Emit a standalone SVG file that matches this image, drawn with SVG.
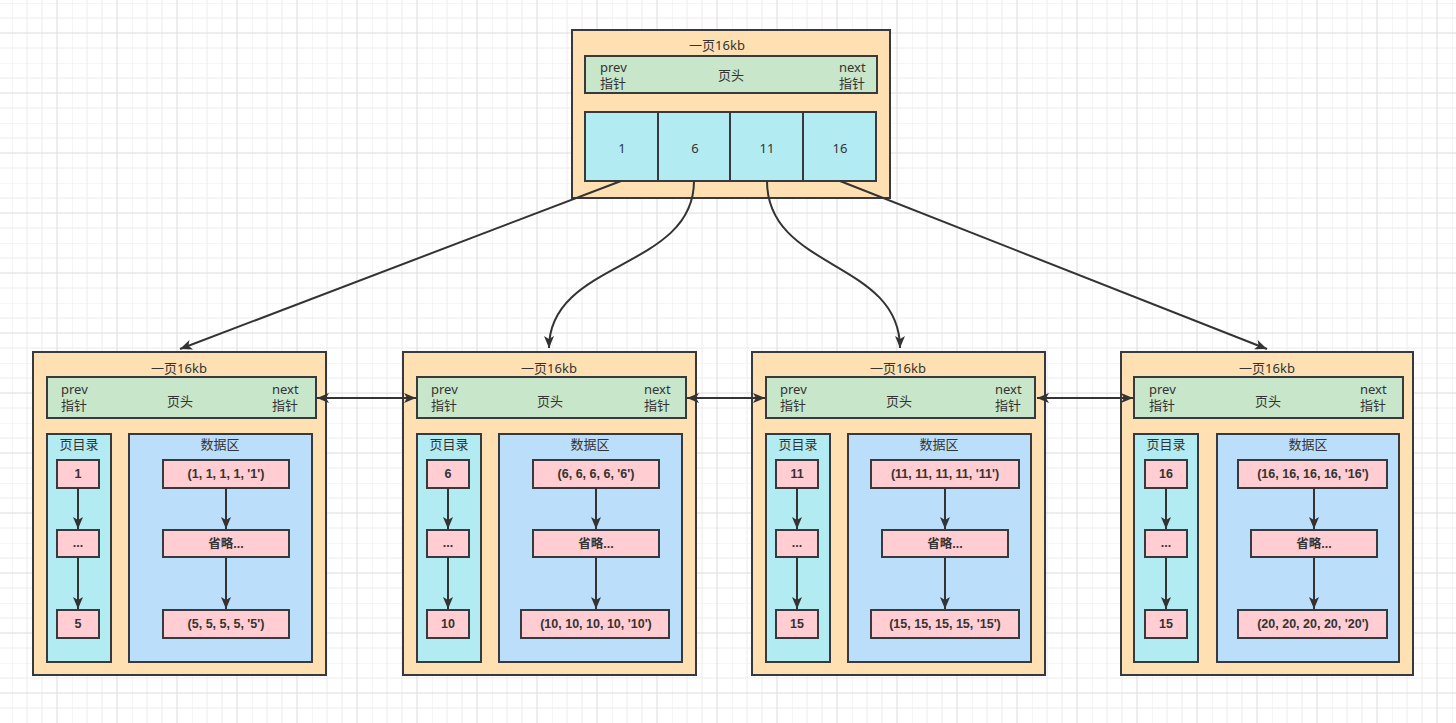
<svg xmlns="http://www.w3.org/2000/svg" width="1456" height="723" viewBox="0 0 1456 723">
<style>
.bg{fill:#ffffff}
.page{fill:#FFE0B2;stroke:#36393d;stroke-width:2}
.hdr{fill:#C8E6C9;stroke:#36393d;stroke-width:2}
.cell{fill:#B2EBF2;stroke:#36393d;stroke-width:2}
.dir{fill:#B2EBF2;stroke:#36393d;stroke-width:2}
.data{fill:#BBDEFB;stroke:#36393d;stroke-width:2}
.rec{fill:#FFCDD2;stroke:#36393d;stroke-width:2}
.t{font-family:"Noto Sans","Noto Sans CJK SC",sans-serif;font-size:13px;fill:#333}
.c{text-anchor:middle}
.b{font-family:"Liberation Sans","Noto Sans CJK SC",sans-serif;font-size:12.5px;font-weight:bold;fill:#333;text-anchor:middle}
.conn{fill:none;stroke:#333;stroke-width:2}
</style>
<defs>
<pattern id="grid" x="12" y="3" width="60" height="60" patternUnits="userSpaceOnUse">
<path d="M0,0V60M15,0V60M30,0V60M0,0H60M0,15H60M0,45H60" stroke="#ececec" stroke-width="1" fill="none"/>
<path d="M45,0V60M0,30H60" stroke="#dcdcdc" stroke-width="1" fill="none"/>
</pattern>
<marker id="ah" markerWidth="13" markerHeight="11" refX="12" refY="5.5" orient="auto" markerUnits="userSpaceOnUse">
<path d="M0,0.5 L12,5.5 L0,10.5 L3,5.5 z" fill="#333"/>
</marker>
<marker id="ahs" markerWidth="13" markerHeight="11" refX="1" refY="5.5" orient="auto" markerUnits="userSpaceOnUse">
<path d="M13,0.5 L1,5.5 L13,10.5 L10,5.5 z" fill="#333"/>
</marker>
</defs>
<rect class="bg" x="0" y="0" width="1456" height="723"/>
<rect x="0" y="0" width="1456" height="723" fill="url(#grid)"/>

<g id="root">
<rect class="page" x="572" y="30" width="318" height="168"/>
<text class="t c" x="717" y="50">一页16kb</text>
<rect class="hdr" x="585" y="56" width="292" height="37"/>
<text class="t" x="600" y="72">prev</text>
<text class="t" x="600" y="88">指针</text>
<text class="t c" x="731" y="80">页头</text>
<text class="t" x="839" y="72">next</text>
<text class="t" x="839" y="88">指针</text>
<rect class="cell" x="585" y="112" width="73" height="69"/>
<rect class="cell" x="658" y="112" width="72" height="69"/>
<rect class="cell" x="730" y="112" width="73" height="69"/>
<rect class="cell" x="803" y="112" width="73" height="69"/>
<text class="t c" x="622" y="153">1</text>
<text class="t c" x="695" y="153">6</text>
<text class="t c" x="767" y="153">11</text>
<text class="t c" x="840" y="153">16</text>
</g>

<g id="leaf1" transform="translate(33,352)">
<rect class="page" x="0" y="0" width="293" height="323"/>
<text class="t c" x="146" y="21">一页16kb</text>
<rect class="hdr" x="14" y="25" width="269" height="41"/>
<text class="t" x="28" y="42">prev</text>
<text class="t" x="28" y="58">指针</text>
<text class="t c" x="147" y="54">页头</text>
<text class="t" x="239" y="42">next</text>
<text class="t" x="239" y="58">指针</text>
<rect class="dir" x="14" y="82" width="64" height="228"/>
<rect class="data" x="96" y="82" width="183" height="228"/>
<text class="t c" x="46" y="97">页目录</text>
<text class="t c" x="187" y="97">数据区</text>
<rect class="rec" x="24" y="108" width="42" height="28"/>
<rect class="rec" x="24" y="178" width="42" height="27"/>
<rect class="rec" x="24" y="258" width="42" height="28"/>
<text class="b" x="45" y="126">1</text>
<text class="b" x="45" y="195">...</text>
<text class="b" x="45" y="276">5</text>
<rect class="rec" x="130" y="108" width="126" height="28"/>
<rect class="rec" x="130" y="178" width="126" height="27"/>
<rect class="rec" x="130" y="258" width="126" height="28"/>
<text class="b" x="193" y="126">(1, 1, 1, 1, '1')</text>
<text class="b" x="193" y="196">省略...</text>
<text class="b" x="193" y="276">(5, 5, 5, 5, '5')</text>
<path class="conn" d="M45,136V177" marker-end="url(#ah)"/>
<path class="conn" d="M45,205V257" marker-end="url(#ah)"/>
<path class="conn" d="M193,136V177" marker-end="url(#ah)"/>
<path class="conn" d="M193,205V257" marker-end="url(#ah)"/>
</g>

<g id="leaf2" transform="translate(403,352)">
<rect class="page" x="0" y="0" width="293" height="323"/>
<text class="t c" x="146" y="21">一页16kb</text>
<rect class="hdr" x="14" y="25" width="269" height="41"/>
<text class="t" x="28" y="42">prev</text>
<text class="t" x="28" y="58">指针</text>
<text class="t c" x="147" y="54">页头</text>
<text class="t" x="241" y="42">next</text>
<text class="t" x="241" y="58">指针</text>
<rect class="dir" x="14" y="82" width="64" height="228"/>
<rect class="data" x="96" y="82" width="183" height="228"/>
<text class="t c" x="46" y="97">页目录</text>
<text class="t c" x="187" y="97">数据区</text>
<rect class="rec" x="24" y="108" width="42" height="28"/>
<rect class="rec" x="24" y="178" width="42" height="27"/>
<rect class="rec" x="24" y="258" width="42" height="28"/>
<text class="b" x="45" y="126">6</text>
<text class="b" x="45" y="195">...</text>
<text class="b" x="45" y="276">10</text>
<rect class="rec" x="130" y="108" width="126" height="28"/>
<rect class="rec" x="130" y="178" width="126" height="27"/>
<rect class="rec" x="118" y="258" width="148" height="28"/>
<text class="b" x="193" y="126">(6, 6, 6, 6, '6')</text>
<text class="b" x="193" y="196">省略...</text>
<text class="b" x="193" y="276">(10, 10, 10, 10, '10')</text>
<path class="conn" d="M45,136V177" marker-end="url(#ah)"/>
<path class="conn" d="M45,205V257" marker-end="url(#ah)"/>
<path class="conn" d="M193,136V177" marker-end="url(#ah)"/>
<path class="conn" d="M193,205V257" marker-end="url(#ah)"/>
</g>

<g id="leaf3" transform="translate(752,352)">
<rect class="page" x="0" y="0" width="293" height="323"/>
<text class="t c" x="146" y="21">一页16kb</text>
<rect class="hdr" x="14" y="25" width="269" height="41"/>
<text class="t" x="28" y="42">prev</text>
<text class="t" x="28" y="58">指针</text>
<text class="t c" x="147" y="54">页头</text>
<text class="t" x="243" y="42">next</text>
<text class="t" x="243" y="58">指针</text>
<rect class="dir" x="14" y="82" width="64" height="228"/>
<rect class="data" x="96" y="82" width="183" height="228"/>
<text class="t c" x="46" y="97">页目录</text>
<text class="t c" x="187" y="97">数据区</text>
<rect class="rec" x="24" y="108" width="42" height="28"/>
<rect class="rec" x="24" y="178" width="42" height="27"/>
<rect class="rec" x="24" y="258" width="42" height="28"/>
<text class="b" x="45" y="126">11</text>
<text class="b" x="45" y="195">...</text>
<text class="b" x="45" y="276">15</text>
<rect class="rec" x="119" y="108" width="148" height="28"/>
<rect class="rec" x="130" y="178" width="126" height="27"/>
<rect class="rec" x="119" y="258" width="148" height="28"/>
<text class="b" x="193" y="126">(11, 11, 11, 11, '11')</text>
<text class="b" x="193" y="196">省略...</text>
<text class="b" x="193" y="276">(15, 15, 15, 15, '15')</text>
<path class="conn" d="M45,136V177" marker-end="url(#ah)"/>
<path class="conn" d="M45,205V257" marker-end="url(#ah)"/>
<path class="conn" d="M193,136V177" marker-end="url(#ah)"/>
<path class="conn" d="M193,205V257" marker-end="url(#ah)"/>
</g>

<g id="leaf4" transform="translate(1121,352)">
<rect class="page" x="0" y="0" width="292" height="323"/>
<text class="t c" x="146" y="21">一页16kb</text>
<rect class="hdr" x="13" y="25" width="269" height="41"/>
<text class="t" x="28" y="42">prev</text>
<text class="t" x="28" y="58">指针</text>
<text class="t c" x="147" y="54">页头</text>
<text class="t" x="239" y="42">next</text>
<text class="t" x="239" y="58">指针</text>
<rect class="dir" x="13" y="82" width="64" height="228"/>
<rect class="data" x="96" y="82" width="182" height="228"/>
<text class="t c" x="45" y="97">页目录</text>
<text class="t c" x="187" y="97">数据区</text>
<rect class="rec" x="24" y="108" width="42" height="28"/>
<rect class="rec" x="24" y="178" width="42" height="27"/>
<rect class="rec" x="24" y="258" width="42" height="28"/>
<text class="b" x="45" y="126">16</text>
<text class="b" x="45" y="195">...</text>
<text class="b" x="45" y="276">15</text>
<rect class="rec" x="117" y="108" width="149" height="28"/>
<rect class="rec" x="130" y="178" width="126" height="27"/>
<rect class="rec" x="117" y="258" width="149" height="28"/>
<text class="b" x="192" y="126">(16, 16, 16, 16, '16')</text>
<text class="b" x="193" y="196">省略...</text>
<text class="b" x="192" y="276">(20, 20, 20, 20, '20')</text>
<path class="conn" d="M45,136V177" marker-end="url(#ah)"/>
<path class="conn" d="M45,205V257" marker-end="url(#ah)"/>
<path class="conn" d="M193,136V177" marker-end="url(#ah)"/>
<path class="conn" d="M193,205V257" marker-end="url(#ah)"/>
</g>

<g id="connectors">
<path class="conn" d="M621,181 L180,349" marker-end="url(#ah)"/>
<path class="conn" d="M694,181 C694,270 549,260 549,348" marker-end="url(#ah)"/>
<path class="conn" d="M767,181 C767,270 900,260 900,348" marker-end="url(#ah)"/>
<path class="conn" d="M840,181 L1267,349" marker-end="url(#ah)"/>
<path class="conn" d="M317,398 H416" marker-start="url(#ahs)" marker-end="url(#ah)"/>
<path class="conn" d="M687,398 H765" marker-start="url(#ahs)" marker-end="url(#ah)"/>
<path class="conn" d="M1037,398 H1133" marker-start="url(#ahs)" marker-end="url(#ah)"/>
</g>
</svg>
